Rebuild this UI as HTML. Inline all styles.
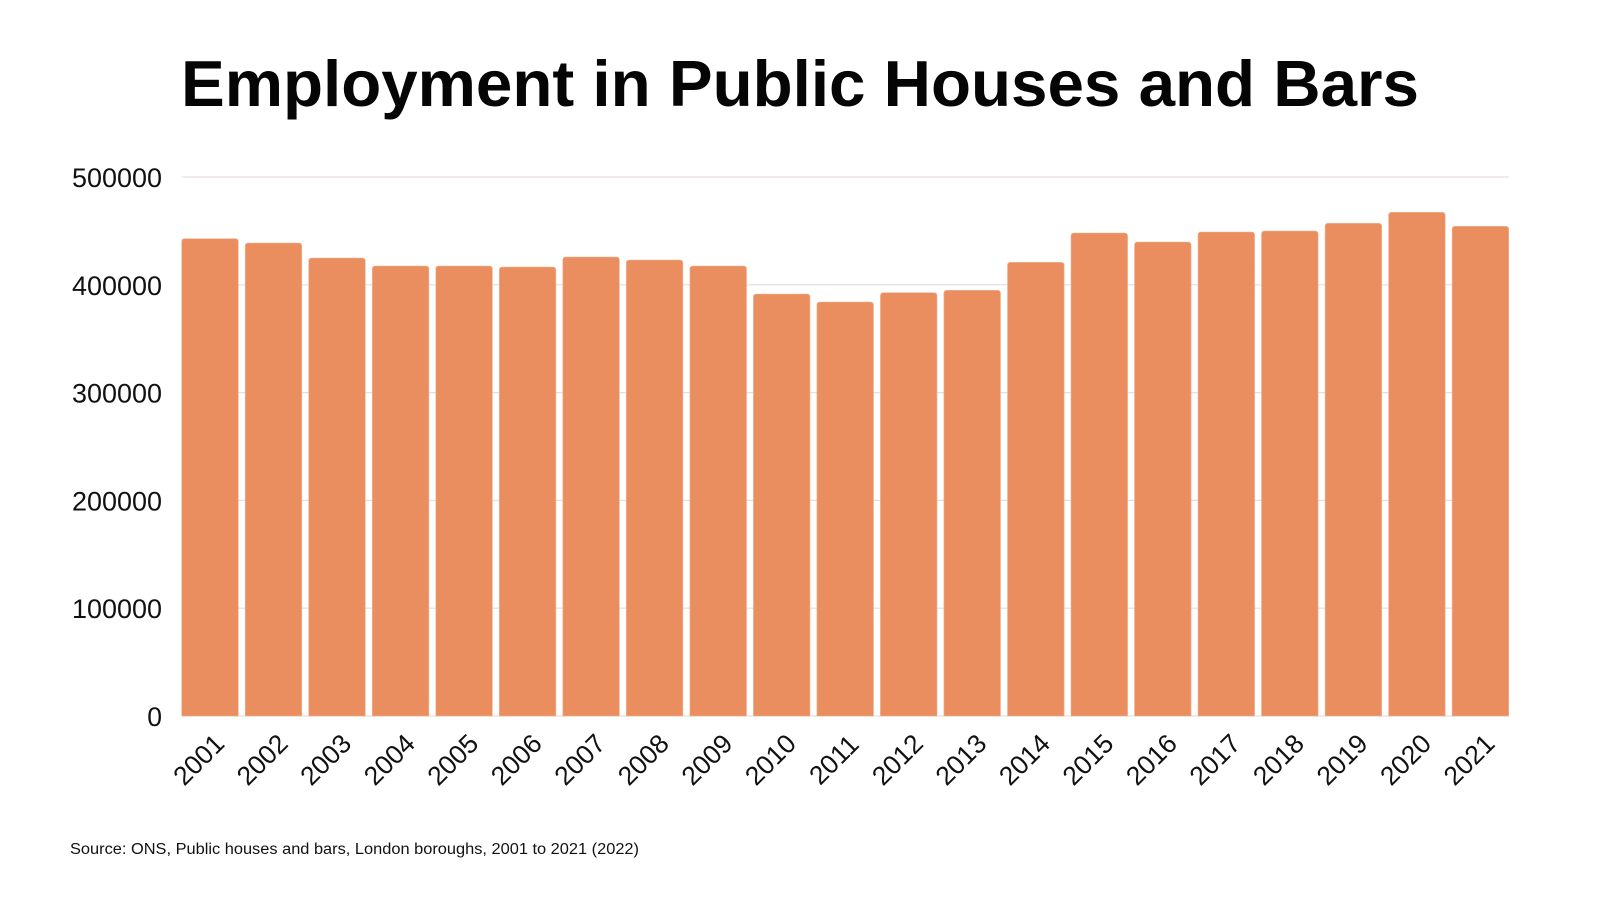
<!DOCTYPE html>
<html>
<head>
<meta charset="utf-8">
<style>
  html, body { margin: 0; padding: 0; background: #ffffff; }
  body { width: 1600px; height: 900px; overflow: hidden; }
  svg { display: block; }
  text { font-family: "Liberation Sans", "DejaVu Sans", sans-serif; }
</style>
</head>
<body>
<svg width="1600" height="900" viewBox="0 0 1600 900" xmlns="http://www.w3.org/2000/svg">
  <rect x="0" y="0" width="1600" height="900" fill="#ffffff"/>

  <!-- Title -->
  <text x="181" y="106" font-size="65" font-weight="bold" fill="#050505" textLength="1238" lengthAdjust="spacingAndGlyphs">Employment in Public Houses and Bars</text>

  <!-- Gridlines -->
  <g stroke="#e6ded9" stroke-width="1.2">
    <line x1="181.7" y1="177" x2="1508.7" y2="177"/>
    <line x1="181.7" y1="284.8" x2="1508.7" y2="284.8"/>
    <line x1="181.7" y1="392.6" x2="1508.7" y2="392.6"/>
    <line x1="181.7" y1="500.4" x2="1508.7" y2="500.4"/>
    <line x1="181.7" y1="608.2" x2="1508.7" y2="608.2"/>
    <line x1="181.7" y1="716" x2="1508.7" y2="716"/>
  </g>

  <!-- Y axis labels -->
  <g font-size="26.5" fill="#111111" text-anchor="end">
    <text x="162" y="187" textLength="90" lengthAdjust="spacingAndGlyphs">500000</text>
    <text x="162" y="294.8" textLength="90" lengthAdjust="spacingAndGlyphs">400000</text>
    <text x="162" y="402.6" textLength="90" lengthAdjust="spacingAndGlyphs">300000</text>
    <text x="162" y="510.4" textLength="90" lengthAdjust="spacingAndGlyphs">200000</text>
    <text x="162" y="618.2" textLength="90" lengthAdjust="spacingAndGlyphs">100000</text>
    <text x="162" y="726">0</text>
  </g>

  <!-- Bars -->
  <g fill="#eb8e5f" stroke="#f0b597" stroke-width="0.6">
    <path d="M181.7,716 V241.7 Q181.7,238.7 184.7,238.7 H235.3 Q238.3,238.7 238.3,241.7 V716 Z"/>
    <path d="M245.2,716 V246 Q245.2,243 248.2,243 H298.8 Q301.8,243 301.8,246 V716 Z"/>
    <path d="M308.7,716 V261 Q308.7,258 311.7,258 H362.3 Q365.3,258 365.3,261 V716 Z"/>
    <path d="M372.3,716 V269 Q372.3,266 375.3,266 H425.9 Q428.9,266 428.9,269 V716 Z"/>
    <path d="M435.8,716 V269 Q435.8,266 438.8,266 H489.4 Q492.4,266 492.4,269 V716 Z"/>
    <path d="M499.3,716 V270 Q499.3,267 502.3,267 H552.9 Q555.9,267 555.9,270 V716 Z"/>
    <path d="M562.8,716 V260 Q562.8,257 565.8,257 H616.4 Q619.4,257 619.4,260 V716 Z"/>
    <path d="M626.3,716 V263 Q626.3,260 629.3,260 H679.9 Q682.9,260 682.9,263 V716 Z"/>
    <path d="M689.9,716 V269 Q689.9,266 692.9,266 H743.5 Q746.5,266 746.5,269 V716 Z"/>
    <path d="M753.4,716 V297 Q753.4,294 756.4,294 H807 Q810,294 810,297 V716 Z"/>
    <path d="M816.9,716 V305 Q816.9,302 819.9,302 H870.5 Q873.5,302 873.5,305 V716 Z"/>
    <path d="M880.4,716 V295.7 Q880.4,292.7 883.4,292.7 H934 Q937,292.7 937,295.7 V716 Z"/>
    <path d="M943.9,716 V293.3 Q943.9,290.3 946.9,290.3 H997.5 Q1000.5,290.3 1000.5,293.3 V716 Z"/>
    <path d="M1007.5,716 V265.3 Q1007.5,262.3 1010.5,262.3 H1061.1 Q1064.1,262.3 1064.1,265.3 V716 Z"/>
    <path d="M1071,716 V236 Q1071,233 1074,233 H1124.6 Q1127.6,233 1127.6,236 V716 Z"/>
    <path d="M1134.5,716 V245 Q1134.5,242 1137.5,242 H1188.1 Q1191.1,242 1191.1,245 V716 Z"/>
    <path d="M1198,716 V235 Q1198,232 1201,232 H1251.6 Q1254.6,232 1254.6,235 V716 Z"/>
    <path d="M1261.5,716 V234 Q1261.5,231 1264.5,231 H1315.1 Q1318.1,231 1318.1,234 V716 Z"/>
    <path d="M1325.1,716 V226.3 Q1325.1,223.3 1328.1,223.3 H1378.7 Q1381.7,223.3 1381.7,226.3 V716 Z"/>
    <path d="M1388.6,716 V215.3 Q1388.6,212.3 1391.6,212.3 H1442.2 Q1445.2,212.3 1445.2,215.3 V716 Z"/>
    <path d="M1452.1,716 V229.3 Q1452.1,226.3 1455.1,226.3 H1505.7 Q1508.7,226.3 1508.7,229.3 V716 Z"/>
  </g>

  <!-- X axis labels -->
  <g font-size="26.5" fill="#111111" text-anchor="middle">
    <g transform="translate(198.5,759.5) rotate(-45)"><text x="0" y="9.3">2001</text></g>
    <g transform="translate(262,759.5) rotate(-45)"><text x="0" y="9.3">2002</text></g>
    <g transform="translate(325.5,759.5) rotate(-45)"><text x="0" y="9.3">2003</text></g>
    <g transform="translate(389.1,759.5) rotate(-45)"><text x="0" y="9.3">2004</text></g>
    <g transform="translate(452.6,759.5) rotate(-45)"><text x="0" y="9.3">2005</text></g>
    <g transform="translate(516.1,759.5) rotate(-45)"><text x="0" y="9.3">2006</text></g>
    <g transform="translate(579.6,759.5) rotate(-45)"><text x="0" y="9.3">2007</text></g>
    <g transform="translate(643.1,759.5) rotate(-45)"><text x="0" y="9.3">2008</text></g>
    <g transform="translate(706.7,759.5) rotate(-45)"><text x="0" y="9.3">2009</text></g>
    <g transform="translate(770.2,759.5) rotate(-45)"><text x="0" y="9.3">2010</text></g>
    <g transform="translate(833.7,759.5) rotate(-45)"><text x="0" y="9.3">2011</text></g>
    <g transform="translate(897.2,759.5) rotate(-45)"><text x="0" y="9.3">2012</text></g>
    <g transform="translate(960.7,759.5) rotate(-45)"><text x="0" y="9.3">2013</text></g>
    <g transform="translate(1024.3,759.5) rotate(-45)"><text x="0" y="9.3">2014</text></g>
    <g transform="translate(1087.8,759.5) rotate(-45)"><text x="0" y="9.3">2015</text></g>
    <g transform="translate(1151.3,759.5) rotate(-45)"><text x="0" y="9.3">2016</text></g>
    <g transform="translate(1214.8,759.5) rotate(-45)"><text x="0" y="9.3">2017</text></g>
    <g transform="translate(1278.3,759.5) rotate(-45)"><text x="0" y="9.3">2018</text></g>
    <g transform="translate(1341.9,759.5) rotate(-45)"><text x="0" y="9.3">2019</text></g>
    <g transform="translate(1405.4,759.5) rotate(-45)"><text x="0" y="9.3">2020</text></g>
    <g transform="translate(1468.9,759.5) rotate(-45)"><text x="0" y="9.3">2021</text></g>
  </g>

  <!-- Source -->
  <text x="70" y="854" font-size="15.5" fill="#111111" textLength="569" lengthAdjust="spacingAndGlyphs">Source: ONS, Public houses and bars, London boroughs, 2001 to 2021 (2022)</text>
</svg>
</body>
</html>
